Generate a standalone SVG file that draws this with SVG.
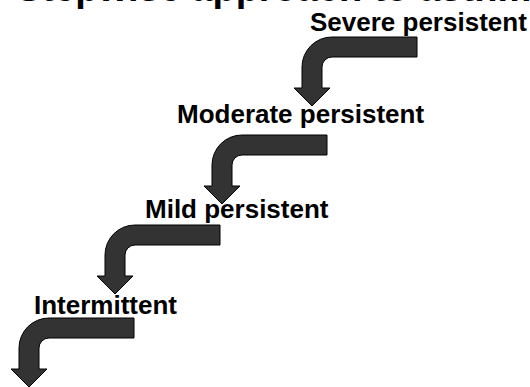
<svg xmlns="http://www.w3.org/2000/svg" xmlns:xlink="http://www.w3.org/1999/xlink" width="530" height="387" viewBox="0 0 530 387">
<defs>
<style>
.lbl{font-family:"Liberation Sans",Arial,sans-serif;font-weight:bold;font-size:26px;fill:#000}
.ttl{font-family:"Liberation Sans",Arial,sans-serif;font-weight:bold;font-size:38px;fill:#000}
.arr{fill:#333333;stroke:#000;stroke-width:1;stroke-linejoin:miter}
</style>
<path id="bend" d="M115,0 L30,0 A30,30 0 0 0 0,30 L0,51 L-8,51 L10,69 L28,51 L20,51 L20,30 A10,10 0 0 1 30,20 L115,20 Z"/>
</defs>
<rect width="530" height="387" fill="#fff"/>
<g id="title"><text class="ttl" x="16" y="1">Stepwise approach to asthma therapy</text></g>
<g id="connectors">
<use xlink:href="#bend" class="arr" transform="translate(302,37)"/>
<use xlink:href="#bend" class="arr" transform="translate(212,135)"/>
<use xlink:href="#bend" class="arr" transform="translate(105,225)"/>
<use xlink:href="#bend" class="arr" transform="translate(19,318)"/>
</g>
<g id="severe"><text class="lbl" x="310" y="31">Severe persistent</text></g>
<g id="moderate"><text class="lbl" x="177" y="123">Moderate persistent</text></g>
<g id="mild"><text class="lbl" x="145" y="218">Mild persistent</text></g>
<g id="intermittent"><text class="lbl" x="34" y="314">Intermittent</text></g>
</svg>
